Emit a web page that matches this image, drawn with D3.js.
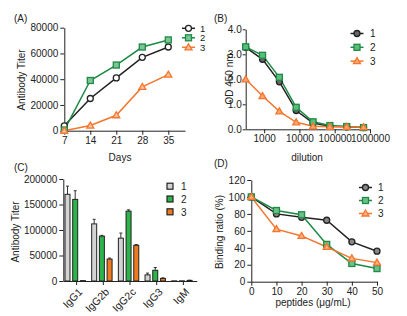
<!DOCTYPE html>
<html>
<head>
<meta charset="utf-8">
<script src="https://cdn.jsdelivr.net/npm/d3@7"></script>
<style>
body { margin: 0; background: #fff; }
text { font-family: "Liberation Sans", Arial, sans-serif; fill: #222; }
</style>
</head>
<body>
<script>
// data
var SERIES = ["1", "2", "3"];
var COLORS = ["#222222", "#1e8a45", "#f5762e"];
var BAR_COLORS = ["#d3d3d3", "#2cb34a", "#f07a22"];

// (A) titer over days
var DAYS = [7, 14, 21, 28, 35];
var A1 = [3800, 25000, 41000, 57000, 65000];
var A2 = [500, 39000, 51000, 65000, 70500];
var A3 = [0, 4000, 12000, 34000, 43500];

// (B) OD vs dilution
var DILUTION = [300, 900, 2700, 8100, 24300, 72900, 218700, 656100];
var B1 = [3.28, 2.8, 1.9, 0.75, 0.25, 0.12, 0.1, 0.07];
var B2 = [3.3, 2.96, 2.08, 0.88, 0.3, 0.15, 0.11, 0.07];
var B3 = [2.0, 1.33, 0.72, 0.28, 0.12, 0.1, 0.1, 0.08];

// (C) subclasses
var SUBCLASS = ["IgG1", "IgG2b", "IgG2c", "IgG3", "IgM"];
var C1 = [170000, 112000, 84000, 12000, 300];
var C2 = [160000, 88000, 137000, 21000, 300];
var C3 = [800, 43000, 70000, 5000, 1200];
var C1_ERR = [16000, 9000, 10000, 3500, 0];
var C2_ERR = [17000, 1500, 2500, 5500, 0];
var C3_ERR = [0, 2000, 1500, 1200, 300];

// (D) competition
var PEPTIDE = [0, 10, 20, 30, 40, 50];
var D1 = [100, 80, 76, 72.5, 47, 36];
var D2 = [100, 84, 79, 44, 21.5, 15.5];
var D3 = [100, 62, 54, 41, 27.5, 22.5];

var svg = d3.select("body").append("svg").attr("width", 407).attr("height", 316);

function marker(g, type, x, y, color, fill) {
    if (type == 0) {
        g.append("circle").attr("cx", x).attr("cy", y).attr("r", 3)
            .attr("fill", fill).attr("stroke", color).attr("stroke-width", 1.3);
    } else if (type == 1) {
        g.append("rect").attr("x", x - 3).attr("y", y - 3).attr("width", 6).attr("height", 6)
            .attr("fill", fill).attr("stroke", color).attr("stroke-width", 1.3);
    } else {
        g.append("path").attr("d", "M" + x + "," + (y - 3.5) + "L" + (x + 3.5) + "," + (y + 2.5) + "L" + (x - 3.5) + "," + (y + 2.5) + "Z")
            .attr("fill", fill).attr("stroke", color).attr("stroke-width", 1.3);
    }
}

function styleAxis(g) {
    g.selectAll("path,line").attr("stroke", "#222").attr("stroke-width", 1);
    g.selectAll("text").attr("font-size", 10).attr("fill", "#222")
        .attr("font-family", "Liberation Sans, Arial, sans-serif");
}

function linePanel(xs, xScale, yScale, data, fills, legend) {
    var g = svg.append("g");
    data.forEach(function (ys, i) {
        var line = d3.line().x(function (d, j) { return xScale(xs[j]); }).y(function (d) { return yScale(d); });
        g.append("path").datum(ys).attr("d", line).attr("fill", "none")
            .attr("stroke", COLORS[i]).attr("stroke-width", 1.5);
    });
    data.forEach(function (ys, i) {
        ys.forEach(function (v, j) {
            marker(g, i, xScale(xs[j]), yScale(v), COLORS[i], fills[i]);
        });
    });
    SERIES.forEach(function (s, i) {
        var ly = legend.y + i * legend.dy;
        g.append("line").attr("x1", legend.x).attr("x2", legend.x + 13).attr("y1", ly).attr("y2", ly)
            .attr("stroke", COLORS[i]).attr("stroke-width", 1.5);
        marker(g, i, legend.x + 6.5, ly, COLORS[i], fills[i]);
        g.append("text").attr("x", legend.tx).attr("y", ly + 3.4).attr("font-size", legend.fs || 10).text(s);
    });
}

function yLabel(x, y, txt) {
    svg.append("text").attr("transform", "translate(" + x + "," + y + ") rotate(-90)")
        .attr("text-anchor", "middle").attr("font-size", 10).text(txt);
}
function label(x, y, txt, anchor) {
    svg.append("text").attr("x", x).attr("y", y).attr("text-anchor", anchor || "start")
        .attr("font-size", 10).text(txt);
}

// ---- (A)
var xA = d3.scaleLinear().domain([7, 39.5]).range([64.3, 185]);
var yA = d3.scaleLinear().domain([0, 80000]).range([130.7, 27.7]);
svg.append("g").attr("transform", "translate(0,130.7)")
    .call(d3.axisBottom(xA).tickValues(DAYS).tickSize(4).tickPadding(2).tickSizeOuter(0)).call(styleAxis);
svg.append("g").attr("transform", "translate(64.3,0)")
    .call(d3.axisLeft(yA).tickValues([0, 20000, 40000, 60000, 80000]).tickFormat(d3.format("d")).tickSize(4).tickPadding(2).tickSizeOuter(0)).call(styleAxis);
linePanel(DAYS, xA, yA, [A1, A2, A3], ["#fff", "#7cc596", "#fbc19d"], {x: 182, y: 28.3, dy: 9.5, tx: 200, fs: 9.5});
label(14, 22, "(A)");
yLabel(25, 80, "Antibody Titer");
label(120, 161, "Days", "middle");

// ---- (B)
var xB = d3.scaleLog().domain([300, 1000000]).range([245.7, 370]);
var yB = d3.scaleLinear().domain([0, 4]).range([129.3, 29.3]);
svg.append("g").attr("transform", "translate(0,129.3)")
    .call(d3.axisBottom(xB).tickValues([1000, 10000, 100000, 1000000]).tickFormat(d3.format("d")).tickSize(4).tickPadding(2).tickSizeOuter(0)).call(styleAxis);
svg.append("g").attr("transform", "translate(245.7,0)")
    .call(d3.axisLeft(yB).tickValues([0, 1, 2, 3, 4]).tickSize(3).tickPadding(1).tickSizeOuter(0)).call(styleAxis);
linePanel(DILUTION, xB, yB, [B1, B2, B3], ["#666", "#5bbd7c", "#f9a56f"], {x: 350.5, y: 33.5, dy: 13.8, tx: 370});
label(214, 22, "(B)");
yLabel(233, 79, "OD 450 nm");
label(307, 161, "dilution", "middle");

// ---- (C)
var x0 = d3.scaleBand().domain(SUBCLASS).range([63.3, 196.7]);
var x1 = d3.scaleBand().domain(SERIES).range([1.7, 22.1]).paddingInner(0.35);
var yC = d3.scaleLinear().domain([0, 200000]).range([281, 179]);
var cVals = [C1, C2, C3], cErr = [C1_ERR, C2_ERR, C3_ERR];
var gC = svg.append("g");
SERIES.forEach(function (s, i) {
    SUBCLASS.forEach(function (c, j) {
        var bx = x0(c) + x1(s), bw = x1.bandwidth();
        var top = yC(cVals[i][j]);
        var et = yC(cVals[i][j] + cErr[i][j]);
        if (cErr[i][j] > 0) {
            gC.append("line").attr("x1", bx + bw / 2).attr("x2", bx + bw / 2).attr("y1", top).attr("y2", et)
                .attr("stroke", "#333").attr("stroke-width", 1);
            gC.append("line").attr("x1", bx + bw / 2 - 1.5).attr("x2", bx + bw / 2 + 1.5).attr("y1", et).attr("y2", et)
                .attr("stroke", "#333").attr("stroke-width", 1);
        }
        gC.append("rect").attr("x", bx).attr("y", top).attr("width", bw).attr("height", Math.max(0.5, yC(0) - top))
            .attr("fill", BAR_COLORS[i]).attr("stroke", "#222").attr("stroke-width", 1);
    });
});
svg.append("g").attr("transform", "translate(0,281)")
    .call(d3.axisBottom(x0).tickSize(4).tickSizeOuter(0)).call(styleAxis)
    .selectAll("text").attr("text-anchor", "end").attr("x", 0).attr("y", 0).attr("dy", "0.35em")
    .attr("font-size", 10.5).attr("transform", "translate(4,9) rotate(-45)");
svg.append("g").attr("transform", "translate(63.3,0)")
    .call(d3.axisLeft(yC).tickValues([0, 50000, 100000, 150000, 200000]).tickFormat(d3.format("d")).tickSize(4).tickPadding(2).tickSizeOuter(0)).call(styleAxis);
SERIES.forEach(function (s, i) {
    var ly = 186.7 + i * 12.8;
    gC.append("rect").attr("x", 167).attr("y", ly - 3.5).attr("width", 6).attr("height", 6)
        .attr("fill", BAR_COLORS[i]).attr("stroke", "#222").attr("stroke-width", 1.2);
    gC.append("text").attr("x", 181).attr("y", ly + 3.6).attr("font-size", 10).text(s);
});
label(14, 171, "(C)");
yLabel(19, 232, "Antibody Titer");

// ---- (D)
var xD = d3.scaleLinear().domain([0, 50]).range([251.3, 377]);
var yD = d3.scaleLinear().domain([0, 120]).range([281.7, 180]);
svg.append("g").attr("transform", "translate(0,281.7)")
    .call(d3.axisBottom(xD).tickValues(PEPTIDE).tickSize(4).tickPadding(2).tickSizeOuter(0)).call(styleAxis);
svg.append("g").attr("transform", "translate(251.3,0)")
    .call(d3.axisLeft(yD).tickValues([0, 20, 40, 60, 80, 100, 120]).tickSize(4).tickPadding(2).tickSizeOuter(0)).call(styleAxis);
linePanel(PEPTIDE, xD, yD, [D1, D2, D3], ["#888", "#6dbf89", "#fbb07f"], {x: 359, y: 187.5, dy: 13, tx: 378});
label(214, 167, "(D)");
yLabel(223, 232, "Binding ratio (%)");
label(313, 306, "peptides (μg/mL)", "middle");
</script>
</body>
</html>
